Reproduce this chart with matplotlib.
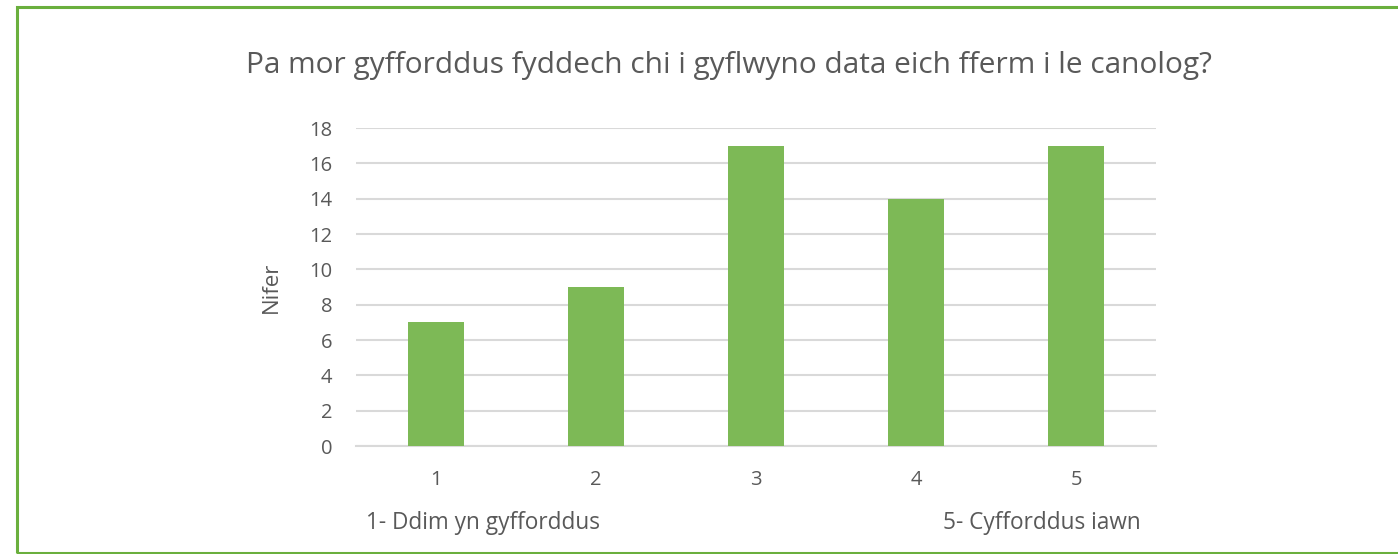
import matplotlib.pyplot as plt
from matplotlib.patches import Rectangle

categories = [1, 2, 3, 4, 5]
counts = [7, 9, 17, 14, 17]
yticks = [0, 2, 4, 6, 8, 10, 12, 14, 16, 18]

title = 'Pa mor gyfforddus fyddech chi i gyflwyno data eich fferm i le canolog?'
low_label = '1- Ddim yn gyfforddus'
high_label = '5- Cyfforddus iawn'

plt.rcParams['font.family'] = ['Open Sans', 'DejaVu Sans']
grey = '#595959'
W, H = 1398, 554

fig = plt.figure(figsize=(W / 100, H / 100), dpi=100)
ax = fig.add_axes([356 / W, 1 - 446 / H, 800 / W, 318 / H])

ax.bar(categories, counts, width=0.35, color='#7DB956', zorder=3)
ax.set_xlim(0.5, 5.5)
ax.set_ylim(0, 18)
ax.set_yticks(yticks)
ax.set_xticks(categories)
ax.grid(axis='y', color='#D9D9D9', lw=1.5, zorder=0)
for s in ['top', 'right', 'left']:
    ax.spines[s].set_visible(False)
ax.spines['bottom'].set_color('#D9D9D9')
ax.spines['bottom'].set_linewidth(1.5)
ax.tick_params(length=0, labelsize=14.5, colors=grey, pad=17)
ax.tick_params(axis='x', pad=17)
ax.set_ylabel('Nifer', fontsize=16, color=grey, labelpad=20)

fig.text(0.5215, 1 - 65 / H, title, ha='center', va='center', fontsize=21.5, color=grey)
fig.text(366 / W, 1 - 523 / H, low_label, ha='left', va='center', fontsize=16.3, color=grey)
fig.text(1141 / W, 1 - 523 / H, high_label, ha='right', va='center', fontsize=16.3, color=grey)

fig.patches.append(Rectangle((17 / W, 1 / H), 1.1, 1 - 8 / H, transform=fig.transFigure,
                             fill=False, ec='#6AAF3D', lw=2.2))

fig.savefig('out.png', dpi=100)
